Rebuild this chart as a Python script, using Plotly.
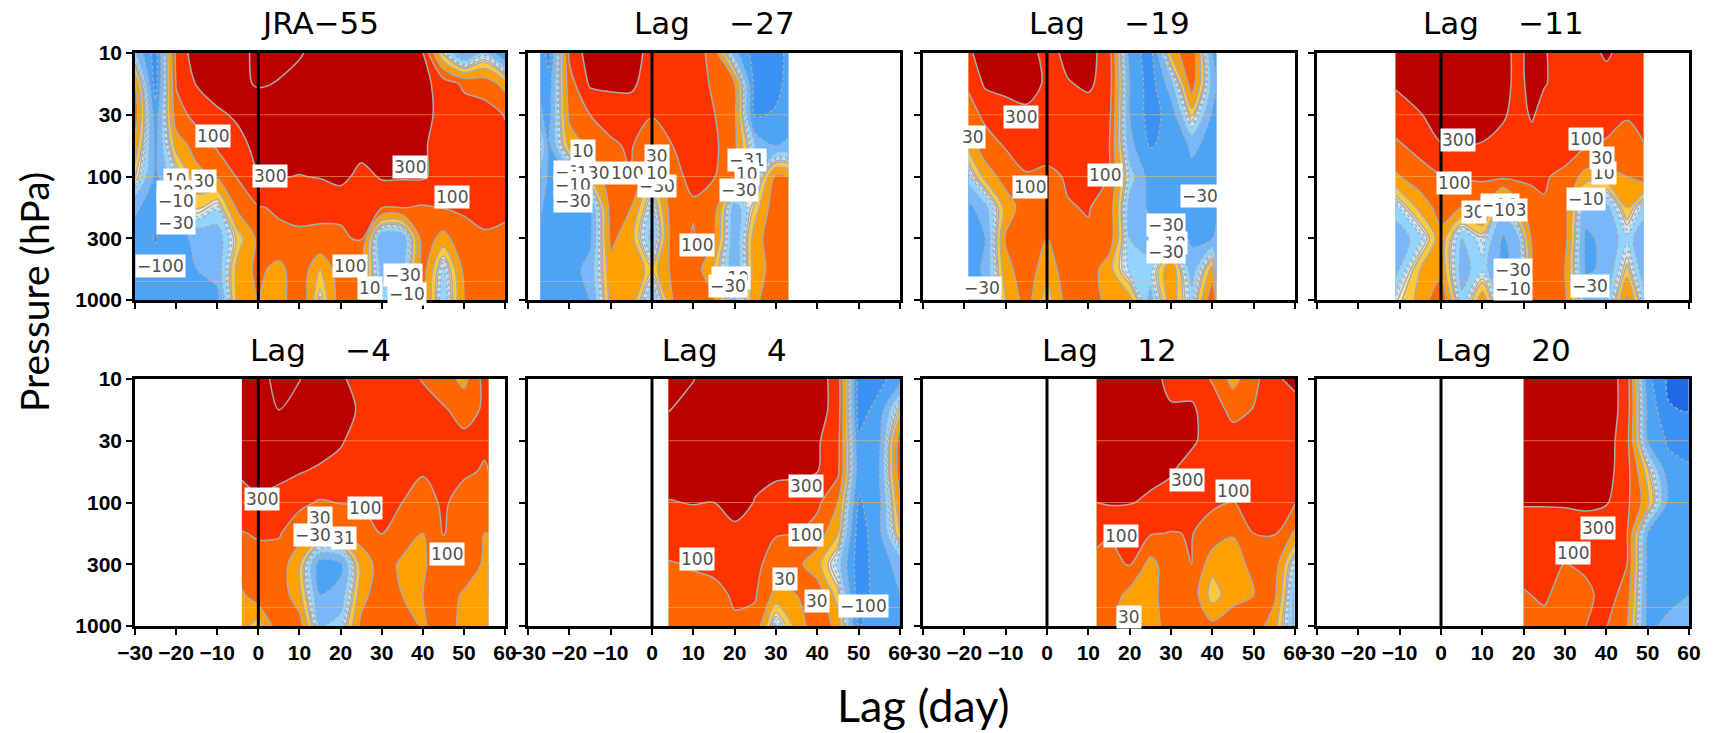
import numpy as np
import plotly.graph_objects as go

W, H = 1715, 733
PRESSURE_TICKS = ["10", "30", "100", "300", "1000"]
LAG_TICKS = [-30, -20, -10, 0, 10, 20, 30, 40, 50, 60]
ROWS = [0, .5, 1, 1.5, 2, 2.5, 3, 3.5, 4]  # equally spaced rows between the pressure ticks
LEVELS = [-300, -100, -30, -10, -3, -1, 1, 3, 10, 30, 100, 300, 1000]
BAND_COLORS = ["#1F68E8", "#3A92F5", "#4DA3F5", "#78B8FA", "#93D3FF", "#B8E8FF", "#E4E4E4",
               "#FFEEB0", "#FFC83C", "#FFA000", "#FF6600", "#FF3300", "#BB0000", "#BB0000"]

lags_jra = [-30, -25, -20, -15, -10, -5, 0, 5, 10, 15, 20, 25, 30, 35, 40, 45, 50, 55, 60]
vals_jra = [
    [-8, -180, 150, 500, 500, 700, 1300, 1300, 1100, 700, 600, 500, 500, 500, 320, 0, -40, -5, -110],
    [30, -170, 110, 320, 500, 800, 1100, 950, 700, 500, 500, 500, 500, 500, 400, 200, 80, 60, 20],
    [60, -60, 60, 150, 250, 350, 500, 500, 500, 500, 500, 500, 500, 500, 450, 200, 180, 160, 95],
    [20, -40, 15, 50, 120, 220, 400, 500, 500, 500, 500, 500, 500, 500, 350, 180, 180, 180, 130],
    [5, -40, -2, 20, 35, 110, 290, 320, 290, 320, 450, 200, 340, 340, 340, 200, 180, 180, 150],
    [-25, -50, -30, 5, -2, 40, 95, 110, 130, 120, 115, 105, 110, 105, 90, 105, 115, 150, 110],
    [-50, -110, -40, -25, -20, 5, 40, 85, 85, 85, 90, 110, -30, -25, 60, 20, 70, 85, 90],
    [-40, -60, -40, -30, -20, 15, 40, 20, 70, 10, 60, 40, -15, -15, 55, -5, 40, 50, 40],
    [-60, -60, -50, -50, -40, 15, 30, 15, 100, 0, 60, 30, -5, -8, 50, -10, 30, 60, 50],
]
lags_m27 = [-27, -25, -20, -15, -10, -5, 0, 5, 10, 15, 20, 25, 30, 33]
vals_m27 = [
    [-40, -180, 130, 500, 500, 500, 200, 200, 200, 60, -20, -180, -180, -70],
    [-40, -60, 60, 350, 400, 350, 200, 200, 200, 80, 35, -180, -170, -60],
    [-25, -50, 40, 100, 130, 200, 110, 180, 200, 105, 40, -130, -80, -50],
    [0, -40, 15, 40, 90, 110, 40, 100, 200, 130, 40, -10, -30, -25],
    [-15, -35, -30, 10, 60, 100, 10, 90, 110, 105, 40, -10, 40, 30],
    [-25, -50, -50, -30, 50, 30, -5, 65, 95, 60, -20, 5, 70, 60],
    [-40, -60, -50, -40, 40, 15, -15, 60, 105, 40, -25, 20, 60, 40],
    [-40, -60, -50, -20, 20, 25, 5, 40, 60, 10, -25, 20, 45, 40],
    [-50, -60, -50, -30, 15, 20, -15, 30, 60, 40, -15, 25, 60, 60],
]
lags_m19 = [-19, -15, -10, -5, 0, 5, 10, 15, 20, 25, 30, 35, 40, 41]
vals_m19 = [
    [250, 500, 500, 500, 200, 400, 400, 200, -50, -180, 15, 80, -30, -40],
    [120, 350, 400, 500, 250, 280, 350, 200, -30, -180, -15, 60, -15, -30],
    [60, 130, 200, 230, 200, 200, 200, 150, -30, -170, -60, 5, -35, -40],
    [15, 60, 110, 180, 150, 190, 200, 110, -20, -110, -70, -25, -40, -40],
    [-5, 15, 50, 90, 80, 110, 150, 100, -5, -50, -50, -40, -30, -35],
    [-40, -15, 15, 60, 70, 95, 105, 70, -15, -35, -50, -50, -35, -30],
    [-50, -30, 35, 60, 30, 70, 90, 65, -10, -20, -15, -35, -30, -28],
    [-50, -25, 20, 60, 15, 60, 60, 15, -5, -5, 25, -20, 15, -10],
    [-60, -30, 10, 50, 5, 50, 60, 20, 15, -15, 20, -5, 70, 20],
]
lags_m11 = [-11, -5, 0, 5, 10, 15, 18.5, 22, 25, 30, 35, 40, 45, 49]
vals_m11 = [
    [500, 500, 500, 500, 500, 500, 200, 500, 320, 200, 200, 350, 200, 200],
    [330, 450, 500, 500, 500, 500, 200, 450, 320, 200, 200, 200, 200, 200],
    [200, 290, 400, 500, 500, 350, 200, 340, 200, 200, 200, 200, 105, 150],
    [80, 150, 290, 300, 280, 200, 200, 200, 200, 200, 110, 80, 80, 95],
    [25, 60, 95, 110, 115, 130, 130, 125, 115, 70, 20, 20, 30, 60],
    [-5, 15, 50, 30, 50, -5, 20, 60, 90, 55, -15, -15, 10, -5],
    [-20, -5, 20, -10, 0, -35, -15, 40, 60, 50, -40, -20, -5, -22],
    [-15, 10, 20, -15, -5, -40, -20, 40, 60, 30, -35, -25, 5, -20],
    [0, 15, 80, -8, 20, -15, 20, 50, 60, 40, -15, -15, 40, -5],
]
lags_m4 = [-4, 0, 5, 10, 15, 20, 25, 30, 35, 40, 45, 50, 55, 56]
vals_m4 = [
    [500, 800, 1200, 1050, 500, 350, 200, 200, 200, 90, 60, 20, 150, 200],
    [450, 950, 1000, 500, 500, 500, 250, 200, 200, 200, 110, 75, 110, 130],
    [500, 500, 500, 500, 500, 330, 200, 200, 200, 200, 200, 120, 120, 150],
    [350, 450, 400, 320, 250, 220, 200, 200, 150, 110, 200, 120, 90, 100],
    [200, 250, 200, 130, 90, 105, 110, 170, 100, 60, 120, 60, 60, 90],
    [95, 110, 110, 50, 25, 30, 50, 105, 50, 30, 105, 60, 30, 30],
    [60, 70, 60, 12, -60, -40, 15, 50, 25, 25, 70, 70, 25, 10],
    [25, 60, 60, 15, -30, -20, 20, 60, 30, 30, 60, 25, 15, 10],
    [15, 5, 60, 50, -10, -5, 40, 60, 70, 25, 60, 20, 20, 15],
]
lags_p4 = [4, 10, 15, 20, 25, 30, 35, 40, 45, 50, 55, 60]
vals_p4 = [
    [1200, 1050, 500, 500, 500, 500, 500, 450, 200, -180, -150, -50],
    [1050, 600, 500, 500, 500, 500, 500, 450, 200, -180, -60, 5],
    [500, 500, 500, 500, 500, 500, 500, 340, 150, -80, -40, 60],
    [400, 450, 450, 400, 350, 360, 340, 305, 130, -60, -30, 60],
    [290, 310, 300, 400, 290, 200, 200, 130, 30, -120, -40, 25],
    [200, 200, 200, 250, 150, 105, 100, 60, 10, -200, -40, 10],
    [90, 110, 120, 200, 120, 70, 40, 15, -5, -200, -50, -20],
    [60, 70, 80, 110, 110, 20, 30, 60, 5, -200, -50, -30],
    [40, 60, 60, 90, 70, -5, 15, 70, 20, -110, -50, -30],
]
lags_p12 = [12, 15, 20, 25, 30, 35, 40, 45, 50, 55, 60]
vals_p12 = [
    [500, 500, 500, 500, 200, 200, 90, 20, 70, 250, 400],
    [500, 500, 500, 500, 350, 350, 180, 70, 105, 200, 200],
    [500, 500, 500, 500, 500, 350, 200, 170, 200, 200, 200],
    [400, 400, 400, 400, 320, 200, 200, 200, 200, 200, 200],
    [300, 330, 320, 250, 220, 200, 120, 95, 160, 150, 105],
    [130, 110, 105, 110, 95, 105, 60, 35, 100, 105, 25],
    [75, 70, 110, 20, 60, 100, 15, 10, 60, 60, -5],
    [60, 60, 20, 20, 60, 60, 5, 20, 30, 40, -15],
    [60, 60, 5, 15, 60, 60, 40, 60, 60, 15, -15],
]
lags_p20 = [20, 25, 30, 35, 40, 45, 50, 55, 60]
vals_p20 = [
    [500, 500, 500, 500, 500, 200, -70, -350, -350],
    [500, 500, 500, 500, 500, 200, -40, -280, -320],
    [500, 500, 500, 500, 500, 150, -30, -120, -130],
    [500, 500, 500, 500, 450, 150, 5, -60, -90],
    [320, 320, 320, 350, 320, 130, 15, -40, -60],
    [200, 200, 220, 200, 200, 110, -30, -40, -40],
    [150, 150, 95, 130, 200, 100, -40, -45, -45],
    [90, 120, 60, 70, 170, 60, -45, -50, -30],
    [60, 70, 60, 100, 105, 35, -45, -20, -10],
]

labels_jra = [(-11.1, 1.34, "100"), (-20, 2.05, "10"), (-13.1, 2.07, "30"), (-20, 2.25, "\u221230"),
              (-20, 2.4, "\u221210"), (-20, 2.75, "\u221230"), (-23.8, 3.45, "\u2212100"), (2.8, 2.0, "300"),
              (37, 1.85, "300"), (47.2, 2.34, "100"), (22.2, 3.45, "100"), (27.2, 3.8, "10"),
              (35.1, 3.6, "\u221230"), (36.1, 3.9, "\u221210")]
labels_m27 = [(-16.8, 1.58, "10"), (-19.1, 1.92, "\u221230"), (-14.3, 1.94, "130"), (-19.1, 2.14, "\u221210"),
              (-19.1, 2.4, "\u221230"), (-6, 1.95, "100"), (1.1, 1.66, "30"), (1.1, 2.16, "\u221230"), (1.1, 1.95, "10"),
              (11, 3.11, "100"), (23, 1.73, "\u221231"), (22.9, 1.96, "10"), (21.1, 2.22, "\u221230"),
              (19.2, 3.65, "\u221210"), (18.4, 3.78, "\u221230")]
labels_m19 = [(-6.2, 1.03, "300"), (-17.9, 1.36, "30"), (-4.2, 2.17, "100"), (14, 1.98, "100"), (37, 2.31, "\u221230"),
              (29.3, 3.08, "\u221210"), (28.9, 2.78, "\u221230"), (28.9, 3.23, "\u221230"), (-15.7, 3.81, "\u221230")]
labels_m11 = [(4.1, 1.41, "300"), (3.1, 2.11, "100"), (8.1, 2.57, "30"), (14.2, 2.46, "\u221210"), (16.8, 2.54, "103"),
              (35.2, 1.39, "100"), (39.4, 1.95, "10"), (39, 1.7, "30"), (35.2, 2.37, "\u221210"), (17.3, 3.51, "\u221230"),
              (17.3, 3.83, "\u221210"), (36, 3.77, "\u221230")]
labels_m4 = [(0.9, 1.94, "300"), (14.9, 2.25, "30"), (13.2, 2.52, "\u221230"), (20.9, 2.58, "31"), (26, 2.09, "100"),
             (46, 2.84, "100")]
labels_p4 = [(37.2, 1.74, "300"), (37.2, 2.52, "100"), (11, 2.91, "100"), (32.1, 3.24, "30"), (40, 3.6, "30"),
             (51.1, 3.68, "\u2212100")]
labels_p12 = [(33.9, 1.64, "300"), (44.9, 1.81, "100"), (18, 2.55, "100"), (19.9, 3.86, "30")]
labels_p20 = [(38, 2.41, "300"), (32, 2.82, "100")]

NB = "\u00a0"
PANELS = [
    ("JRA\u221255", lags_jra, vals_jra, labels_jra),
    ("Lag" + NB * 4 + "\u221227", lags_m27, vals_m27, labels_m27),
    ("Lag" + NB * 4 + "\u221219", lags_m19, vals_m19, labels_m19),
    ("Lag" + NB * 4 + "\u221211", lags_m11, vals_m11, labels_m11),
    ("Lag" + NB * 4 + "\u22124", lags_m4, vals_m4, labels_m4),
    (NB * 2 + "Lag" + NB * 5 + "4", lags_p4, vals_p4, labels_p4),
    ("Lag" + NB * 4 + "12", lags_p12, vals_p12, labels_p12),
    ("Lag" + NB * 4 + "20", lags_p20, vals_p20, labels_p20),
]
GUIDE_ROWS = [1, 2, 3.7]

X_EDGES = [(135, 505), (528, 900), (923, 1295), (1317, 1689)]
Y_EDGES = [(53, 300), (379, 626)]
TITLE_Y = [23, 350]
SMOOTH = 0.9


def squash(v):
    # compress the value scale so that the bands close to zero stay narrow
    return np.arcsinh(np.array(v, dtype=float) / 8.0)


fig = go.Figure()
annotations = []
for p, (title, lags, vals, labels) in enumerate(PANELS):
    row, col = p // 4, p % 4
    ax = "" if p == 0 else str(p + 1)
    xa, ya = f"x{ax}", f"y{ax}"
    z = squash(vals)
    zlo, zhi = float(z.min()), float(z.max())
    common = dict(x=lags, y=ROWS, z=z, xaxis=xa, yaxis=ya, showscale=False, hoverinfo="skip")
    # base colour: the band that holds the panel's lowest value
    low = int(np.searchsorted(LEVELS, np.min(vals)))
    fig.add_trace(go.Heatmap(x=[lags[0], lags[-1]], y=[0, 4], z=[[0]], xaxis=xa, yaxis=ya, showscale=False,
                             colorscale=[[0, BAND_COLORS[low]], [1, BAND_COLORS[low]]], hoverinfo="skip"))
    for k, lev in enumerate(LEVELS):
        fv = float(squash(lev))
        if zlo < fv < zhi:
            fig.add_trace(go.Contour(**common, fillcolor=BAND_COLORS[k + 1],
                                     contours=dict(type="constraint", operation="<=", value=fv),
                                     line=dict(width=0, smoothing=SMOOTH)))
    for k, lev in enumerate(LEVELS):
        fv = float(squash(lev))
        if zlo < fv < zhi:
            fig.add_trace(go.Contour(**common, autocontour=False,
                                     contours=dict(start=fv, end=fv, size=1, coloring="none"),
                                     line=dict(width=1.4 if lev < 0 else 1.5, color="#ABABAB",
                                               dash="dot" if lev < 0 else "solid", smoothing=SMOOTH)))
    for g in GUIDE_ROWS:
        fig.add_trace(go.Scatter(x=[lags[0], lags[-1]], y=[g, g], mode="lines", xaxis=xa, yaxis=ya,
                                 line=dict(color="rgba(255,190,90,0.55)", width=1), hoverinfo="skip", showlegend=False))
    fig.add_trace(go.Scatter(x=[0, 0], y=[0, 4], mode="lines", xaxis=xa, yaxis=ya,
                             line=dict(color="black", width=3), hoverinfo="skip", showlegend=False))
    x0, x1 = X_EDGES[col]
    y0, y1 = Y_EDGES[row]
    tickfont = dict(family="Liberation Sans", size=21, color="black", weight=700)
    fig.update_layout({
        f"xaxis{ax}": dict(domain=[x0 / W, x1 / W], range=[-30, 60], anchor=ya, tickmode="array", automargin=False,
                           tickvals=LAG_TICKS, ticktext=[str(t).replace("-", "\u2212") for t in LAG_TICKS],
                           showticklabels=row == 1, ticks="outside", ticklen=6, tickwidth=2, tickcolor="black",
                           showline=True, linewidth=2.5, linecolor="black", mirror=True, showgrid=False,
                           zeroline=False, tickangle=0, tickfont=tickfont),
        f"yaxis{ax}": dict(domain=[1 - y1 / H, 1 - y0 / H], range=[4, 0], anchor=xa, tickmode="array", automargin=False,
                           tickvals=list(range(5)), ticktext=PRESSURE_TICKS, showticklabels=col == 0,
                           ticks="outside", ticklen=6, tickwidth=2, tickcolor="black",
                           showline=True, linewidth=2.5, linecolor="black", mirror=True, showgrid=False,
                           zeroline=False, tickfont=tickfont),
    })
    annotations.append(dict(text=title, x=(x0 + x1) / 2 / W, y=1 - TITLE_Y[row] / H, xref="paper", yref="paper",
                            showarrow=False, xanchor="center", yanchor="middle",
                            font=dict(family="DejaVu Sans", size=31, color="black")))
    for lx, ly, txt in labels:
        annotations.append(dict(text=txt, x=lx, y=ly, xref=xa, yref=ya, showarrow=False, bgcolor="white",
                                xanchor="center", yanchor="middle",
                                borderpad=1, font=dict(family="DejaVu Sans", size=17, color="#505050")))

annotations.append(dict(text="Pressure (hPa)", x=34 / W, y=1 - 292 / H, xref="paper", yref="paper", textangle=-90,
                        xanchor="center", yanchor="middle",
                        showarrow=False, font=dict(family="Lato", size=39, color="black")))
annotations.append(dict(text="Lag (day)", x=923 / W, y=1 - 705 / H, xref="paper", yref="paper",
                        xanchor="center", yanchor="middle",
                        showarrow=False, font=dict(family="Lato", size=45, color="black")))

fig.update_layout(width=W, height=H, autosize=False, margin=dict(l=0, r=0, t=0, b=0, pad=0), showlegend=False,
                  paper_bgcolor="white", plot_bgcolor="white", annotations=annotations)
fig.write_html("out.html", post_script="document.body.style.margin='0';", config={"displayModeBar": False})
